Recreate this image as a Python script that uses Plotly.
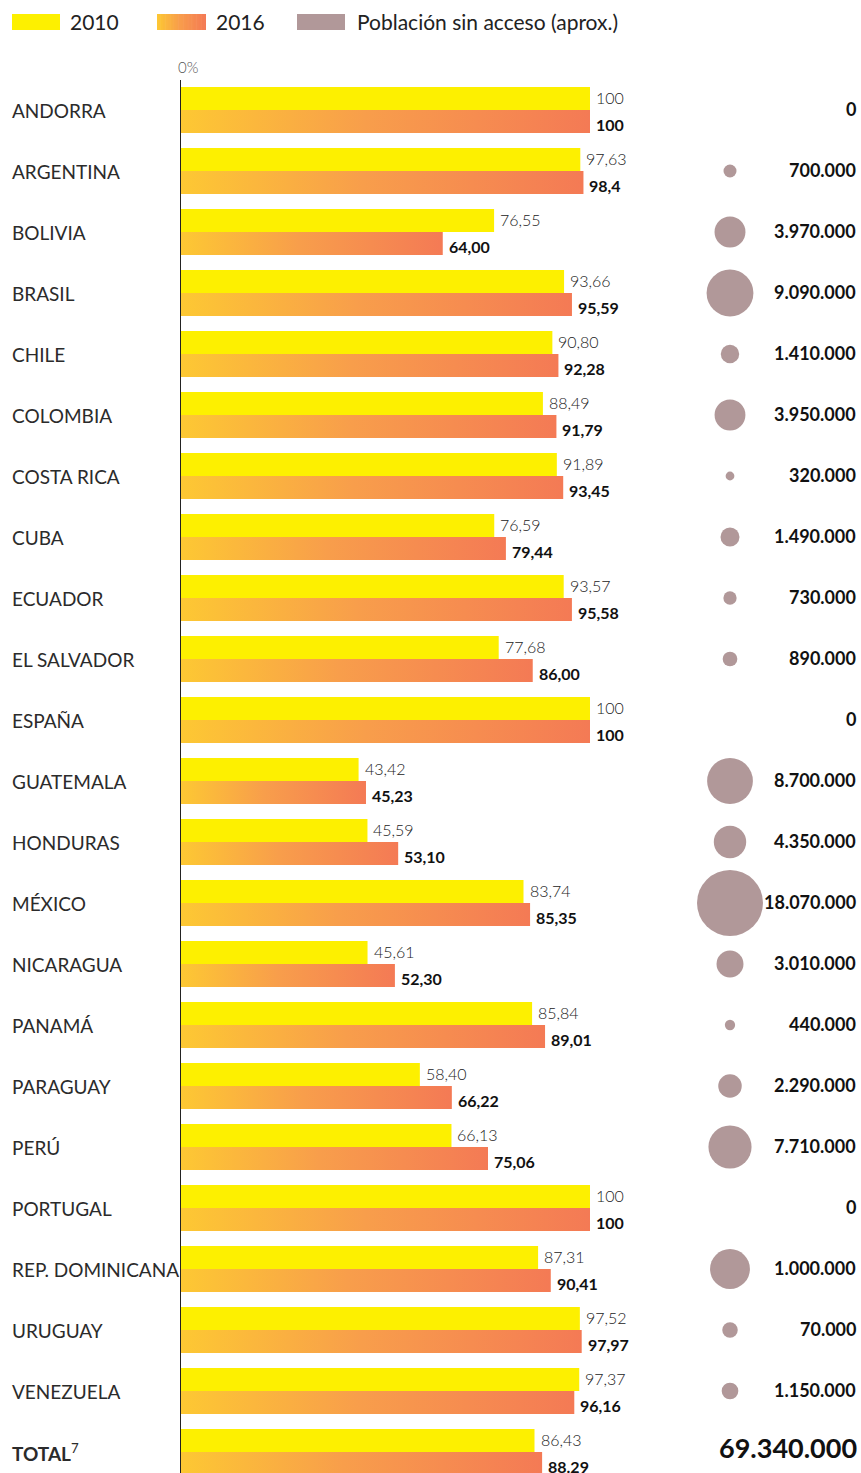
import plotly.graph_objects as go

# ---------------- data ----------------
countries = ["ANDORRA", "ARGENTINA", "BOLIVIA", "BRASIL", "CHILE", "COLOMBIA",
             "COSTA RICA", "CUBA", "ECUADOR", "EL SALVADOR", "ESPAÑA", "GUATEMALA",
             "HONDURAS", "MÉXICO", "NICARAGUA", "PANAMÁ", "PARAGUAY", "PERÚ",
             "PORTUGAL", "REP. DOMINICANA", "URUGUAY", "VENEZUELA", "TOTAL"]

values_2010 = [100, 97.63, 76.55, 93.66, 90.80, 88.49, 91.89, 76.59, 93.57, 77.68,
               100, 43.42, 45.59, 83.74, 45.61, 85.84, 58.40, 66.13, 100, 87.31,
               97.52, 97.37, 86.43]
labels_2010 = ["100", "97,63", "76,55", "93,66", "90,80", "88,49", "91,89", "76,59",
               "93,57", "77,68", "100", "43,42", "45,59", "83,74", "45,61", "85,84",
               "58,40", "66,13", "100", "87,31", "97,52", "97,37", "86,43"]

values_2016 = [100, 98.4, 64.00, 95.59, 92.28, 91.79, 93.45, 79.44, 95.58, 86.00,
               100, 45.23, 53.10, 85.35, 52.30, 89.01, 66.22, 75.06, 100, 90.41,
               97.97, 96.16, 88.29]
labels_2016 = ["100", "98,4", "64,00", "95,59", "92,28", "91,79", "93,45", "79,44",
               "95,58", "86,00", "100", "45,23", "53,10", "85,35", "52,30", "89,01",
               "66,22", "75,06", "100", "90,41", "97,97", "96,16", "88.29"]

population_labels = ["0", "700.000", "3.970.000", "9.090.000", "1.410.000", "3.950.000",
                     "320.000", "1.490.000", "730.000", "890.000", "0", "8.700.000",
                     "4.350.000", "18.070.000", "3.010.000", "440.000", "2.290.000",
                     "7.710.000", "0", "1.000.000", "70.000", "1.150.000"]
# bubble areas as drawn in the source graphic (approx. population without access)
population_bubbles = [0, 700000, 3970000, 9090000, 1410000, 3950000, 320000, 1490000,
                      730000, 890000, 0, 8700000, 4350000, 18070000, 3010000, 440000,
                      2290000, 7710000, 0, 6600000, 1000000, 1150000]
total_population_label = "69.340.000"

# ---------------- styling ----------------
W, H = 861, 1473
ML, MT = 181, 80
PW, PH = W - ML, H - MT
PX_PER_UNIT = 4.09
ROW = 61.0
BAR_H = 23 / ROW
Y0 = -30 / ROW
XMAX = PW / PX_PER_UNIT
YMAX = Y0 + PH / ROW

YELLOW = "#FDF000"
GRAD = [[0, "#FDC833"], [0.45, "#F89E4B"], [1, "#F47A55"]]
BUBBLE = "#B19899"
FONT = "Lato"


def px_x(px):
    return (px - ML) / PW


def px_y(py):
    return (H - py) / PH


n = len(countries)
rows = list(range(n))

fig = go.Figure()

# 2010 bars
fig.add_trace(go.Bar(
    x=values_2010, y=[r - BAR_H / 2 for r in rows], base=0, width=BAR_H,
    orientation="h", marker=dict(color=YELLOW, line=dict(width=0)),
    hoverinfo="skip", showlegend=False))

# 2016 bars (gradient filled rectangles)
for r, v in zip(rows, values_2016):
    fig.add_trace(go.Scatter(
        x=[0, v, v, 0, 0], y=[r, r, r + BAR_H, r + BAR_H, r],
        mode="lines", fill="toself", line=dict(width=0),
        fillgradient=dict(type="horizontal", colorscale=GRAD, start=0, stop=v),
        hoverinfo="skip", showlegend=False))

# bubbles
BUB_X = (730 - ML) / PX_PER_UNIT
sizeref = 2 * max(population_bubbles) / (66 ** 2)
fig.add_trace(go.Scatter(
    x=[BUB_X] * len(population_bubbles), y=rows[:len(population_bubbles)],
    mode="markers",
    marker=dict(size=population_bubbles, sizemode="area", sizeref=sizeref,
                color=BUBBLE, line=dict(width=0), opacity=1),
    hoverinfo="skip", showlegend=False))

annotations = []
for r, name in zip(rows, countries):
    txt = "<b>TOTAL</b><sup>7</sup>" if name == "TOTAL" else name
    annotations.append(dict(
        xref="paper", yref="y", x=px_x(10), y=r, text=txt, showarrow=False,
        xanchor="left", yanchor="middle",
        font=dict(family=FONT, size=19, color="#2b2b2b")))

for r, v, lab in zip(rows, values_2010, labels_2010):
    annotations.append(dict(
        xref="x", yref="y", x=v, y=r - BAR_H / 2 - 0.01, text=lab, showarrow=False,
        xanchor="left", yanchor="middle", xshift=4,
        font=dict(family=FONT, size=16, color="#222222", weight=300)))

for r, v, lab in zip(rows, values_2016, labels_2016):
    annotations.append(dict(
        xref="x", yref="y", x=v, y=r + BAR_H / 2 + 0.05, text="<b>" + lab + "</b>",
        showarrow=False, xanchor="left", yanchor="middle", xshift=4,
        font=dict(family=FONT, size=16, color="#111111")))

for r, lab in zip(rows, population_labels):
    annotations.append(dict(
        xref="paper", yref="y", x=px_x(858), y=r - 0.02, text="<b>" + lab + "</b>",
        showarrow=False, xanchor="right", yanchor="middle",
        font=dict(family=FONT, size=18, color="#111111")))

annotations.append(dict(
    xref="paper", yref="y", x=px_x(859), y=n - 1 - 0.07,
    text="<b>" + total_population_label + "</b>", showarrow=False,
    xanchor="right", yanchor="middle",
    font=dict(family=FONT, size=27, color="#111111")))

annotations.append(dict(
    xref="paper", yref="paper", x=px_x(188), y=px_y(67), text="0%",
    showarrow=False, xanchor="center", yanchor="middle",
    font=dict(family=FONT, size=15, color="#555555", weight=300)))

# legend
shapes = []
legend_items = [(12, 60, YELLOW, 68, "2010"), (157, 206, None, 214, "2016"),
                (297, 345, BUBBLE, 355, "Población sin acceso (aprox.)")]


def lerp_color(t):
    stops = GRAD
    for (a, ca), (b, cb) in zip(stops[:-1], stops[1:]):
        if a <= t <= b:
            f = (t - a) / (b - a) if b > a else 0
            c1 = [int(ca[i:i + 2], 16) for i in (1, 3, 5)]
            c2 = [int(cb[i:i + 2], 16) for i in (1, 3, 5)]
            c = [round(c1[k] + (c2[k] - c1[k]) * f) for k in range(3)]
            return "rgb(%d,%d,%d)" % tuple(c)
    return stops[-1][1]


for x0, x1, col, tx, label in legend_items:
    if col is None:
        steps = 30
        for s in range(steps):
            a = x0 + (x1 - x0) * s / steps
            b = x0 + (x1 - x0) * (s + 1) / steps + 0.6
            shapes.append(dict(type="rect", xref="paper", yref="paper",
                               x0=px_x(a), x1=px_x(min(b, x1)), y0=px_y(30), y1=px_y(14),
                               fillcolor=lerp_color((s + 0.5) / steps),
                               line=dict(width=0), layer="above"))
    else:
        shapes.append(dict(type="rect", xref="paper", yref="paper",
                           x0=px_x(x0), x1=px_x(x1), y0=px_y(30), y1=px_y(14),
                           fillcolor=col, line=dict(width=0), layer="above"))
    annotations.append(dict(
        xref="paper", yref="paper", x=px_x(tx), y=px_y(21), text=label,
        showarrow=False, xanchor="left", yanchor="middle",
        font=dict(family=FONT, size=21, color="#222222")))

fig.update_layout(
    width=W, height=H,
    margin=dict(l=ML, r=0, t=MT, b=0, pad=0),
    paper_bgcolor="white", plot_bgcolor="white",
    barmode="overlay",
    xaxis=dict(range=[0, XMAX], visible=False, fixedrange=True),
    yaxis=dict(range=[YMAX, Y0], showgrid=False, zeroline=False, showticklabels=False,
               ticks="", showline=True, linecolor="#222222", linewidth=1,
               fixedrange=True),
    annotations=annotations, shapes=shapes, showlegend=False)

# let the figure fill the browser window exactly (no page margin / scrollbars)
fig.write_html(
    "out.html",
    config={"displayModeBar": False},
    post_script="document.body.style.margin='0';"
                "document.documentElement.style.overflow='hidden';"
                "document.body.style.overflow='hidden';")
